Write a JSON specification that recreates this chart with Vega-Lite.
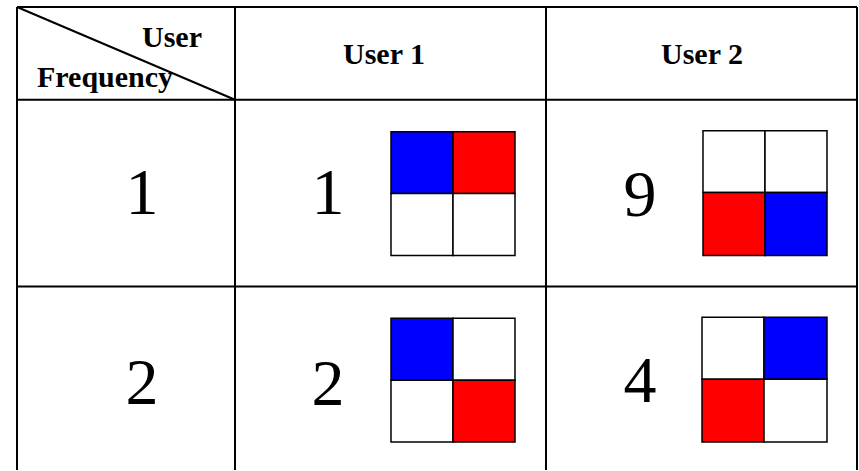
{
  "$schema": "https://vega.github.io/schema/vega-lite/v6.json",
  "width": 859,
  "height": 471,
  "autosize": {"type": "fit", "contains": "padding"},
  "padding": 0,
  "background": "white",
  "config": {"view": {"stroke": null}},
  "datasets": {
    "lines": [
      {"xa": 17, "ya": 7, "xb": 857, "yb": 7},
      {"xa": 17, "ya": 100, "xb": 857, "yb": 100},
      {"xa": 17, "ya": 287, "xb": 857, "yb": 287},
      {"xa": 17, "ya": 7, "xb": 17, "yb": 471},
      {"xa": 235, "ya": 7, "xb": 235, "yb": 471},
      {"xa": 546, "ya": 7, "xb": 546, "yb": 471},
      {"xa": 857, "ya": 7, "xb": 857, "yb": 471},
      {"xa": 17, "ya": 7, "xb": 235, "yb": 100}
    ],
    "quads": [
      {"cell": "U1F1", "x0": 391, "x1": 453, "y0": 132, "y1": 194, "fill": "blue"},
      {"cell": "U1F1", "x0": 453, "x1": 515, "y0": 132, "y1": 194, "fill": "red"},
      {"cell": "U1F1", "x0": 391, "x1": 453, "y0": 194, "y1": 256, "fill": "white"},
      {"cell": "U1F1", "x0": 453, "x1": 515, "y0": 194, "y1": 256, "fill": "white"},
      {"cell": "U2F1", "x0": 703, "x1": 765, "y0": 131, "y1": 193, "fill": "white"},
      {"cell": "U2F1", "x0": 765, "x1": 827, "y0": 131, "y1": 193, "fill": "white"},
      {"cell": "U2F1", "x0": 703, "x1": 765, "y0": 193, "y1": 256, "fill": "red"},
      {"cell": "U2F1", "x0": 765, "x1": 827, "y0": 193, "y1": 256, "fill": "blue"},
      {"cell": "U1F2", "x0": 391, "x1": 453, "y0": 319, "y1": 381, "fill": "blue"},
      {"cell": "U1F2", "x0": 453, "x1": 515, "y0": 319, "y1": 381, "fill": "white"},
      {"cell": "U1F2", "x0": 391, "x1": 453, "y0": 381, "y1": 443, "fill": "white"},
      {"cell": "U1F2", "x0": 453, "x1": 515, "y0": 381, "y1": 443, "fill": "red"},
      {"cell": "U2F2", "x0": 702, "x1": 764, "y0": 318, "y1": 380, "fill": "white"},
      {"cell": "U2F2", "x0": 764, "x1": 827, "y0": 318, "y1": 380, "fill": "blue"},
      {"cell": "U2F2", "x0": 702, "x1": 764, "y0": 380, "y1": 443, "fill": "red"},
      {"cell": "U2F2", "x0": 764, "x1": 827, "y0": 380, "y1": 443, "fill": "white"}
    ],
    "headers": [
      {"label": "User 1", "x": 384, "y": 64},
      {"label": "User 2", "x": 702, "y": 64}
    ],
    "cornerRight": [
      {"label": "User", "x": 202, "y": 47}
    ],
    "cornerLeft": [
      {"label": "Frequency", "x": 37, "y": 87}
    ],
    "numbers": [
      {"label": "1", "x": 142, "y": 214},
      {"label": "2", "x": 142, "y": 405},
      {"label": "1", "x": 328, "y": 214},
      {"label": "9", "x": 640, "y": 216},
      {"label": "2", "x": 328, "y": 406},
      {"label": "4", "x": 640, "y": 403}
    ]
  },
  "layer": [
    {
      "data": {"name": "lines"},
      "mark": {"type": "rule", "color": "black", "strokeWidth": 2},
      "encoding": {
        "x": {"field": "xa", "type": "quantitative", "scale": {"domain": [0, 859], "nice": false, "zero": false}, "axis": null},
        "y": {"field": "ya", "type": "quantitative", "scale": {"domain": [0, 471], "nice": false, "zero": false, "reverse": true}, "axis": null},
        "x2": {"field": "xb"},
        "y2": {"field": "yb"}
      }
    },
    {
      "data": {"name": "quads"},
      "mark": {"type": "rect", "stroke": "black", "strokeWidth": 1.5},
      "encoding": {
        "x": {"field": "x0", "type": "quantitative", "axis": null},
        "x2": {"field": "x1"},
        "y": {"field": "y0", "type": "quantitative", "axis": null},
        "y2": {"field": "y1"},
        "fill": {"field": "fill", "type": "nominal", "scale": {"domain": ["blue", "red", "white"], "range": ["#0000ff", "#ff0000", "#ffffff"]}, "legend": null}
      }
    },
    {
      "data": {"name": "headers"},
      "mark": {"type": "text", "font": "Liberation Serif", "fontWeight": "bold", "fontSize": 30, "align": "center", "baseline": "alphabetic", "color": "black"},
      "encoding": {
        "x": {"field": "x", "type": "quantitative", "axis": null},
        "y": {"field": "y", "type": "quantitative", "axis": null},
        "text": {"field": "label"}
      }
    },
    {
      "data": {"name": "cornerRight"},
      "mark": {"type": "text", "font": "Liberation Serif", "fontWeight": "bold", "fontSize": 30, "align": "right", "baseline": "alphabetic", "color": "black"},
      "encoding": {
        "x": {"field": "x", "type": "quantitative", "axis": null},
        "y": {"field": "y", "type": "quantitative", "axis": null},
        "text": {"field": "label"}
      }
    },
    {
      "data": {"name": "cornerLeft"},
      "mark": {"type": "text", "font": "Liberation Serif", "fontWeight": "bold", "fontSize": 30, "align": "left", "baseline": "alphabetic", "color": "black"},
      "encoding": {
        "x": {"field": "x", "type": "quantitative", "axis": null},
        "y": {"field": "y", "type": "quantitative", "axis": null},
        "text": {"field": "label"}
      }
    },
    {
      "data": {"name": "numbers"},
      "mark": {"type": "text", "font": "Liberation Serif", "fontSize": 66, "align": "center", "baseline": "alphabetic", "color": "black"},
      "encoding": {
        "x": {"field": "x", "type": "quantitative", "axis": null},
        "y": {"field": "y", "type": "quantitative", "axis": null},
        "text": {"field": "label"}
      }
    }
  ]
}
